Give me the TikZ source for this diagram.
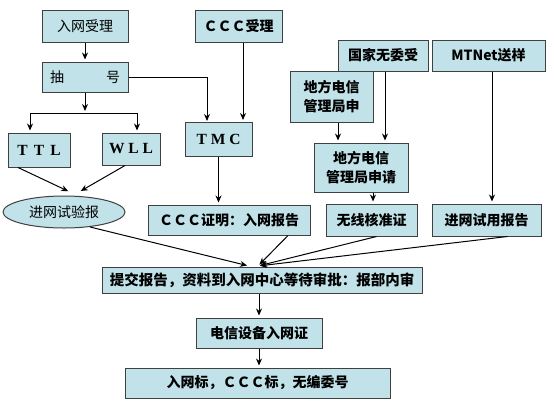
\documentclass[tikz,border=0pt]{standalone}
\usepackage{fontspec}
\setmainfont{Liberation Serif}
\newfontfamily\cjk{Noto Sans CJK SC}
\usetikzlibrary{arrows.meta,shapes.geometric}
\definecolor{boxblue}{RGB}{192,226,232}
\tikzset{
  box/.style={draw=black!75, line width=1pt, fill=boxblue, inner sep=0pt, align=center,
    font=\cjk\bfseries\fontsize{14}{19}\selectfont},
  thinbox/.style={box, font=\cjk\fontsize{14}{19}\selectfont},
  latinbox/.style={box, font=\bfseries\fontsize{15.5}{18}\selectfont},
  arr/.style={line width=1pt, -{Stealth[length=7pt,width=6pt]}, shorten >=2pt},
  line/.style={line width=1pt}
}
\begin{document}
\begin{tikzpicture}[x=1pt,y=-1pt]
    \useasboundingbox (0,0) rectangle (554,407);
    % Boxes, left column
    \node[thinbox, minimum width=86pt, minimum height=32pt] (ruwang) at (85,26) {入网受理};
    \node[thinbox, minimum width=86pt, minimum height=30pt] (chouhao) at (85,77) {抽\hspace{3em}号};
    \node[latinbox, minimum width=62pt, minimum height=34pt] (ttl) at (39,150) {T\hspace{0.4em}T\hspace{0.4em}L};
    \node[latinbox, minimum width=58pt, minimum height=32pt] (wll) at (131,149) {W\hspace{0.25em}L\hspace{0.25em}L};
    \node[thinbox, ellipse, minimum width=122pt, minimum height=32pt] (syb) at (64,212) {进网试验报};
    % Boxes, CCC
    \node[box, minimum width=87pt, minimum height=32pt] (cccsl) at (238.5,26) {ＣＣＣ受理};
    \node[latinbox, minimum width=67pt, minimum height=34pt] (tmc) at (218.5,139.5) {T\hspace{0.25em}M\hspace{0.25em}C};
    \node[box, minimum width=162pt, minimum height=30pt] (cccz) at (229,220) {ＣＣＣ证明：入网报告};
    % Boxes, radio
    \node[box, minimum width=90pt, minimum height=31pt] (wwh) at (383,55.5) {国家无委受};
    \node[box, minimum width=83pt, minimum height=51pt] (dfsq) at (331.5,96.5) {地方电信\\管理局申};
    \node[box, minimum width=94pt, minimum height=49pt] (dfsqq) at (361,167.5) {地方电信\\管理局申请};
    \node[box, minimum width=91pt, minimum height=32pt] (wxhz) at (371.5,220) {无线核准证};
    % Boxes, MTNet
    \node[box, minimum width=113pt, minimum height=31pt] (mtnet) at (488.5,55.5) {MTNet送样};
    \node[box, minimum width=109pt, minimum height=32pt] (jwsy) at (486.5,220) {进网试用报告};
    % Boxes, bottom
    \node[box, minimum width=320pt, minimum height=26pt, font=\cjk\bfseries\fontsize{14.5}{17}\selectfont] (tjbg) at (262,280) {提交报告，资料到入网中心等待审批：报部内审};
    \node[box, minimum width=126pt, minimum height=30pt] (dxsb) at (259,333) {电信设备入网证};
    \node[box, minimum width=265pt, minimum height=30pt] (rwb) at (257.5,383) {入网标，ＣＣＣ标，无编委号};
    % Joints
    \coordinate (forkl) at (30,113);
    \coordinate (forkr) at (137,113);
    \coordinate (tmcin) at (207,123);
    \coordinate (sybin) at (74,192);
    \coordinate (tjinl) at (249,266);
    \coordinate (tjin) at (258,266);
    % Arrows, left column
    \draw[arr] (ruwang) -- (chouhao);
    \draw[arr] (chouhao.south) -- (chouhao.south |- forkl);
    \draw[line] (forkl) -- (forkr);
    \draw[arr] (forkl) -- (forkl |- ttl.north);
    \draw[arr] (forkr) -- (forkr |- wll.north);
    \draw[arr] ([xshift=-21pt]ttl.south) -- ([xshift=-4pt]sybin);
    \draw[arr] ([xshift=-6pt]wll.south) -- ([xshift=5pt]sybin);
    \draw[arr] (chouhao.east) -| (tmcin);
    % Arrows, CCC
    \draw[arr] ([xshift=4.5pt]cccsl.south) -- ([xshift=4.5pt]cccsl.south |- tmc.north);
    \draw[arr] (tmc) -- (tmc |- cccz.north);
    % Arrows, radio
    \draw[arr] ([xshift=6.5pt]dfsq.south) -- ([xshift=6.5pt]dfsq.south |- dfsqq.north);
    \draw[arr] ([xshift=2pt]wwh.south) -- ([xshift=2pt]wwh.south |- dfsqq.north);
    \draw[arr] ([xshift=12pt]dfsqq.south) -- ([xshift=12pt]dfsqq.south |- wxhz.north);
    \draw[arr] ([xshift=3.5pt]mtnet.south) -- ([xshift=3.5pt]mtnet.south |- jwsy.north);
    % Arrows into the review box
    \draw[arr] (syb.-30) -- (tjinl);
    \draw[arr] ([xshift=59pt]cccz.south) -- (tjin);
    \draw[arr] ([xshift=5pt]wxhz.south) -- (tjin);
    \draw[arr] ([xshift=21pt]jwsy.south) -- (tjin);
    % Arrows, bottom
    \draw[arr] (tjbg.south -| dxsb.north) -- (dxsb.north);
    \draw[arr] (dxsb) -- (dxsb |- rwb.north);
\end{tikzpicture}
\end{document}
